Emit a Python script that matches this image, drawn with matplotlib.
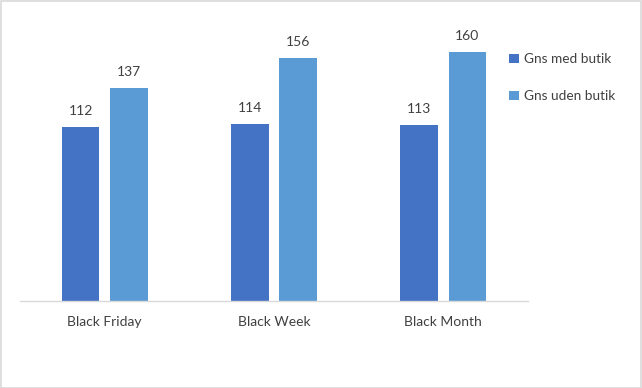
import matplotlib
matplotlib.use("Agg")
import matplotlib.pyplot as plt
import numpy as np
from matplotlib.patches import Rectangle

categories = ["Black Friday", "Black Week", "Black Month"]
med_butik = [112, 114, 113]
uden_butik = [137, 156, 160]
series_names = ["Gns med butik", "Gns uden butik"]
colors = ["#4472C4", "#5B9BD5"]

plt.rcParams['font.family'] = ['Lato', 'DejaVu Sans']
W, H = 642, 388
fig = plt.figure(figsize=(W/100, H/100), dpi=100)
ax = fig.add_axes([20/W, (H-301)/H, 508/W, 281/H])

x = np.arange(len(categories))
bw = 0.222
off = 0.142
b1 = ax.bar(x - off, med_butik, bw, color=colors[0], label=series_names[0])
b2 = ax.bar(x + off, uden_butik, bw, color=colors[1], label=series_names[1])
for bars in (b1, b2):
    ax.bar_label(bars, padding=7, fontsize=10, color="#404040")

ax.set_xlim(-0.5, 2.5)
ax.set_ylim(0, 180.5)
ax.set_yticks([])
ax.set_xticks(x)
ax.set_xticklabels(categories, fontsize=10, color="#404040")
ax.tick_params(axis='x', length=0, pad=11)
for s in ["top", "right", "left"]:
    ax.spines[s].set_visible(False)
ax.spines["bottom"].set_color("#D9D9D9")
ax.spines["bottom"].set_linewidth(1)

leg = fig.legend(handles=[b1, b2], labels=series_names, loc="upper left",
                 bbox_to_anchor=(497/W, 1 - 41/H), frameon=False,
                 fontsize=9.8, handlelength=0.7, handleheight=0.7,
                 handletextpad=0.4, labelspacing=1.85, labelcolor="#404040")

fig.patches.append(Rectangle((0.5/W, 0.5/H), 1 - 1.5/W, 1 - 1.5/H, transform=fig.transFigure,
                             fill=False, edgecolor="#D9D9D9", linewidth=1.2))
fig.savefig("out.png", dpi=100)
